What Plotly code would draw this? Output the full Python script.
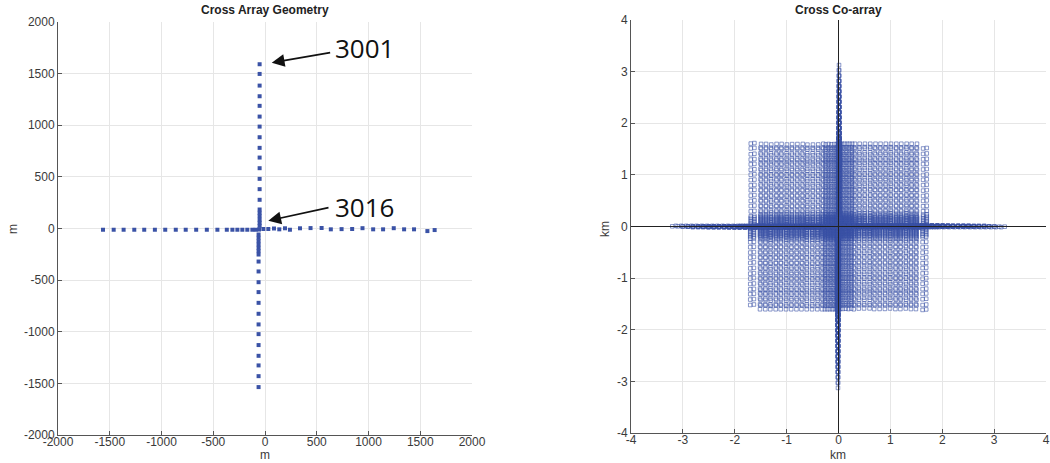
import numpy as np
import plotly.graph_objects as go

# Sensor coordinates (metres).  North-south arm, listed from element 3001 (north end) southwards.
vert_y = [1591, 1497, 1384, 1281, 1188, 1084, 987, 884, 781, 687, 584, 481, 381, 278, 184,
          152, 120, 85, 55, 25,
          -58, -90, -123, -155, -187, -219, -252, -320, -416, -520, -616, -720, -826, -929,
          -1023, -1129, -1233, -1326, -1430, -1536]
vert_x = [-52] * 20 + [-62] * 20

# East-west arm, west to east (includes the central element).
horz_x = [-1565, -1462, -1366, -1263, -1167, -1064, -964, -862, -766, -665, -562, -460,
          -369, -315, -267, -219, -171, -122, -90,
          -58,
          -16, 32, 87, 138, 193, 241, 338, 440, 547, 636, 740, 842, 942, 1045, 1141, 1244,
          1344, 1440, 1569, 1639]
horz_y = [-12] * 19 + [-10] + [-5, -5, 0, -8, 2, -12, 2, 4, 5, -8, -6, -5, 3, -8, -8, 3,
                                 -8, -8, -25, -15]

axis_ticks_m = [-2000, -1500, -1000, -500, 0, 500, 1000, 1500, 2000]
axis_ticks_km = [-4, -3, -2, -1, 0, 1, 2, 3, 4]

# Full array and its co-array (all pairwise baseline vectors, in km)
ax_all = np.array(vert_x + horz_x, dtype=float)
ay_all = np.array(vert_y + horz_y, dtype=float)
co_x = ((ax_all[:, None] - ax_all[None, :]) / 1000.0).ravel()
co_y = ((ay_all[:, None] - ay_all[None, :]) / 1000.0).ravel()

BLUE = "#3a52a6"
GRID = "#e6e6e6"
AXC = "#555555"
TXT = "#3a3a3a"
FONT = "Liberation Sans, Arial, sans-serif"

fig = go.Figure()
fig.add_trace(go.Scatter(
    x=ax_all, y=ay_all, mode="markers", xaxis="x", yaxis="y",
    marker=dict(symbol="square", size=4, color=BLUE, line=dict(width=0)),
    showlegend=False, hoverinfo="skip"))
fig.add_trace(go.Scatter(
    x=co_x, y=co_y, mode="markers", xaxis="x2", yaxis="y2",
    marker=dict(symbol="square-open", size=3.6, color=BLUE, line=dict(width=0.6, color=BLUE)),
    showlegend=False, hoverinfo="skip"))

W, H = 1050, 463


def ax_common(ticks, rng, standoff=0):
    return dict(range=rng, tickvals=ticks, ticktext=[str(t) for t in ticks],
                showgrid=True, gridcolor=GRID, gridwidth=1, zeroline=False,
                showline=True, linecolor=AXC, linewidth=1, mirror=False,
                ticks="inside", ticklen=4, tickcolor=AXC, automargin=False,
                ticklabelstandoff=standoff,
                tickfont=dict(family=FONT, size=12, color=TXT), fixedrange=True)


fig.update_layout(
    width=W, height=H, margin=dict(l=0, r=0, t=0, b=0, autoexpand=False),
    paper_bgcolor="white", plot_bgcolor="white",
    xaxis=dict(domain=[58 / W, 472 / W], anchor="y", **ax_common(axis_ticks_m, [-2000, 2000], -4)),
    yaxis=dict(domain=[1 - 435 / H, 1 - 22 / H], anchor="x", **ax_common(axis_ticks_m, [-2000, 2000])),
    xaxis2=dict(domain=[631 / W, 1046 / W], anchor="y2", **ax_common(axis_ticks_km, [-4, 4], -4)),
    yaxis2=dict(domain=[1 - 433 / H, 1 - 20 / H], anchor="x2", **ax_common(axis_ticks_km, [-4, 4])),
)

# Zero lines of the co-array panel, drawn above the markers
fig.add_shape(type="line", xref="x2", yref="y2", x0=0, x1=0, y0=-4, y1=4,
              line=dict(color="#222222", width=1), layer="above")
fig.add_shape(type="line", xref="x2", yref="y2", x0=-4, x1=4, y0=0, y1=0,
              line=dict(color="#222222", width=1), layer="above")

ann = []
# Titles
ann.append(dict(text="<b>Cross Array Geometry</b>", x=265 / W, y=1 - 10 / H, xref="paper", yref="paper",
                showarrow=False, font=dict(family=FONT, size=12, color="#222222"),
                xanchor="center", yanchor="middle"))
ann.append(dict(text="<b>Cross Co-array</b>", x=838 / W, y=1 - 10 / H, xref="paper", yref="paper",
                showarrow=False, font=dict(family=FONT, size=12, color="#222222"),
                xanchor="center", yanchor="middle"))
# Axis titles
for txt, x in [("m", 265), ("km", 838)]:
    ann.append(dict(text=txt, x=x / W, y=0, xref="paper", yref="paper", showarrow=False,
                    font=dict(family=FONT, size=12, color=TXT),
                    xanchor="center", yanchor="bottom", borderpad=0))
for txt, x in [("m", 13), ("km", 605)]:
    ann.append(dict(text=txt, x=x / W, y=1 - 229 / H, xref="paper", yref="paper", showarrow=False,
                    textangle=-90, font=dict(family=FONT, size=12, color=TXT),
                    xanchor="center", yanchor="middle", borderpad=0))

# Element labels with arrows
for label, tx, ty, tail, tip in [("3001", 657, 1748, (644, 1706), (65, 1606)),
                                  ("3016", 657, 208, (628, 205), (32, 76))]:
    ann.append(dict(text=label, x=tx, y=ty, xref="x", yref="y", showarrow=False,
                    xanchor="left", yanchor="middle",
                    font=dict(family="Open Sans, Noto Sans, sans-serif", size=26, color="#111111")))
    ann.append(dict(text="", x=tip[0], y=tip[1], ax=tail[0], ay=tail[1], xref="x", yref="y",
                    axref="x", ayref="y", showarrow=True, arrowhead=2, arrowsize=1.6,
                    arrowwidth=1.6, arrowcolor="#111111", standoff=0, startstandoff=0))

fig.update_layout(annotations=ann)
fig.write_html("out.html")
